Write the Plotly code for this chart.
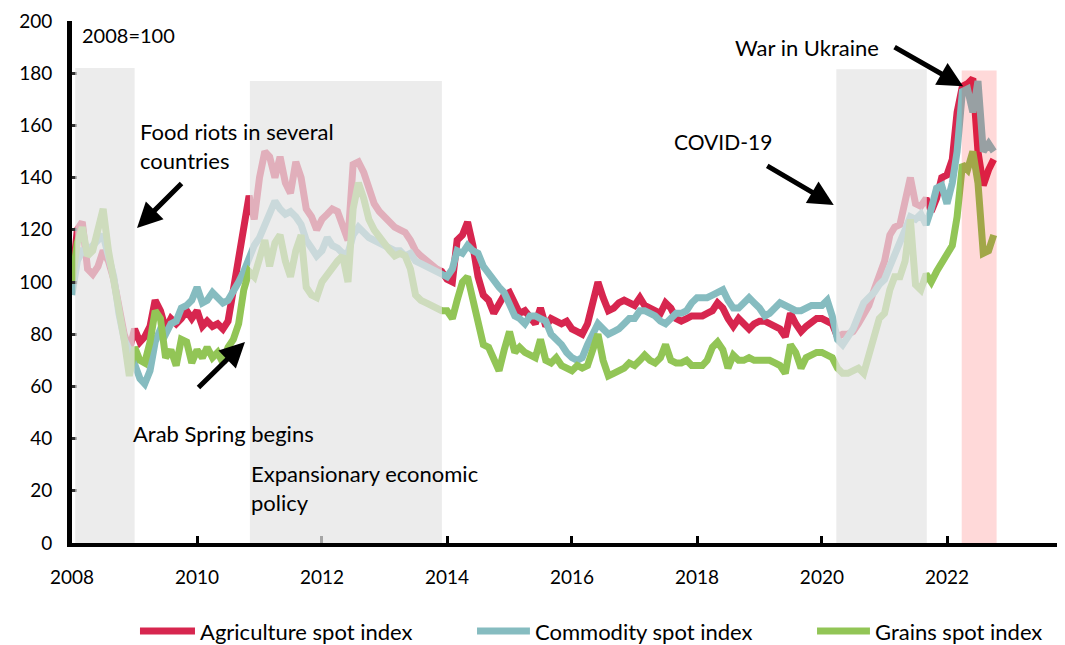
import pandas as pd
import plotly.graph_objects as go

dates = pd.date_range("2008-01-01", "2022-10-01", freq="MS")

agriculture = [
    100, 120, 123, 105, 103, 106, 112, 108, 101, 90, 80, 74,
    82, 77, 79, 83, 93, 89, 82, 86, 84, 86, 89, 86,
    89, 83, 85, 83, 84, 82, 85, 97, 109, 122, 133, 124,
    140, 150, 148, 140, 148, 138, 134, 146, 140, 128, 125, 120,
    124, 126, 128, 127, 122, 116, 145, 146, 142, 136, 130, 127,
    125, 123, 121, 120, 119, 116, 112, 110, 108, 107, 105, 104,
    101, 100, 116, 118, 123, 114, 102, 95, 93, 88, 92, 95,
    96, 91, 88, 89, 86, 84, 90, 83, 86, 85, 84, 85,
    82, 81, 80, 84, 91, 100, 94, 89, 90, 92, 93, 92,
    91, 94, 91, 90, 89, 88, 92, 90, 86, 85, 86, 87,
    87, 87, 88, 89, 92, 90, 86, 83, 86, 84, 82, 84,
    85, 85, 84, 83, 82, 79, 88, 84, 81, 83, 85, 86,
    86, 85, 84, 79, 80, 80, 81, 84, 88, 91, 97, 103,
    108, 118, 121, 122, 130, 140, 130, 129, 132, 127, 132, 140,
    141, 147, 165, 175, 176, 178, 150, 137, 143, 147,
]

commodity = [
    95, 108, 112, 112, 114, 116, 118, 110, 102, 88, 78, 74,
    69, 63, 61, 66, 77, 82, 80, 84, 85, 90, 91, 93,
    98, 92, 93, 96, 94, 92, 93, 96, 100, 104, 110, 114,
    117, 122, 127, 131, 128, 126, 127, 125, 122, 116, 113, 110,
    112, 117, 114, 113, 111, 111, 118, 121, 119, 117, 116, 115,
    114, 113, 112, 112, 110, 111, 108, 107, 106, 105, 104, 103,
    102, 105, 112, 111, 114, 112, 111, 106, 103, 100, 98, 96,
    92, 87, 86, 84, 87, 87, 86, 85, 80, 78, 76, 73,
    71, 70, 71, 76, 80, 84, 82, 80, 81, 82, 84, 86,
    86, 89, 89, 88, 87, 85, 84, 86, 88, 88, 89, 92,
    94, 94, 94, 95, 96, 97, 93, 90, 90, 92, 94, 92,
    90, 87, 88, 90, 92, 91, 90, 89, 89, 90, 91, 91,
    91, 93, 87, 78, 76, 79, 82, 87, 92, 94, 96, 99,
    101, 106, 111, 115, 120, 125, 124, 126, 122, 128, 136, 137,
    130, 138, 150, 173, 174, 165, 177, 150, 153, 150,
]

grains = [
    100, 115, 121, 110, 112, 120, 128, 112, 101, 90, 78, 64,
    75, 70, 69, 77, 89, 86, 71, 74, 68, 78, 77, 69,
    74, 71, 75, 71, 73, 69, 75, 78, 84, 97, 104, 102,
    108, 116, 106, 115, 118, 108, 102, 112, 118, 98, 95, 94,
    100, 103, 106, 108, 110, 100, 128, 138, 132, 124, 120, 117,
    115, 112, 110, 111, 110, 105, 95, 93, 92, 91, 90, 89,
    89, 86, 93, 100, 102, 94, 84, 76, 75, 70, 66, 74,
    81, 73, 75, 73, 72, 71, 78, 70, 69, 71, 68, 67,
    66, 68, 67, 68, 73, 80, 70, 64, 65, 66, 67, 69,
    68, 70, 72, 70, 69, 71, 76, 70, 69, 69, 70, 68,
    68, 68, 70, 75, 77, 74, 67, 72, 70, 70, 71, 70,
    70, 70, 70, 69, 68, 65, 76, 73, 67, 71, 72, 73,
    73, 72, 71, 67, 65, 65, 66, 67, 65, 72, 80, 86,
    88, 97, 102, 102, 108, 124, 99, 97, 103, 100, 104, 107,
    111, 114, 125, 145, 143, 150, 138, 111, 112, 118,
]

series_names = ["Agriculture spot index", "Commodity spot index", "Grains spot index"]
series_colors = ["#d7264f", "#86bcc0", "#92c556"]

grey_periods = [("2008-01-20", "2009-01-01", 182), ("2010-11-06", "2013-12-02", 177),
                ("2020-03-25", "2021-09-05", 181.5)]
war_period = ("2022-03-28", "2022-10-18", 181)

FONT = "Lato, 'Open Sans', sans-serif"

fig = go.Figure()
for name, vals, col in zip(series_names, [agriculture, commodity, grains], series_colors):
    fig.add_trace(go.Scatter(x=dates, y=vals, name=name, mode="lines", showlegend=False,
                             line=dict(color=col, width=7, shape="linear")))

for x0, x1, top in grey_periods:
    fig.add_shape(type="rect", xref="x", yref="y", x0=x0, x1=x1, y0=-0.8, y1=top,
                  fillcolor="rgba(228,228,228,0.72)", line=dict(width=0), layer="above")
fig.add_shape(type="rect", xref="x", yref="y", x0=war_period[0], x1=war_period[1], y0=-0.8,
              y1=war_period[2], fillcolor="rgba(255,0,0,0.15)", line=dict(width=0), layer="above")

texts = [
    ("2008=100", "2008-02-15", 194.5, 20),
    ("Food riots in several<br>countries", "2009-01-20", 152, 22),
    ("Arab Spring begins", "2008-12-10", 42, 22),
    ("Expansionary economic<br>policy", "2010-11-01", 21, 22),
    ("COVID-19", "2017-08-05", 154, 21),
    ("War in Ukraine", "2018-07-30", 190, 22),
]
for t, x, y, fs in texts:
    fig.add_annotation(text=t, x=x, y=y, xref="x", yref="y", showarrow=False,
                       xanchor="left", yanchor="middle", align="left",
                       font=dict(family=FONT, size=fs, color="#000"))

arrows = [
    ("2009-01-15", 120.7, 46, -46),
    ("2010-10-08", 77, -48, 47),
    ("2020-03-10", 129.5, -68, -40),
    ("2022-04-05", 175, -70, -40),
]
for x, y, ax, ay in arrows:
    fig.add_annotation(text="", x=x, y=y, xref="x", yref="y", ax=ax, ay=ay,
                       axref="pixel", ayref="pixel", showarrow=True,
                       arrowhead=2, arrowsize=1, arrowwidth=5, arrowcolor="#000", standoff=0)

# legend drawn below the axis (sample line + label for each series)
legend_x = [(0.0686, 0.1241, 0.1272), (0.4087, 0.4621, 0.4652), (0.7518, 0.8052, 0.8083)]
legend_y = -0.1686
for name, col, (lx0, lx1, tx) in zip(series_names, series_colors, legend_x):
    fig.add_shape(type="line", xref="paper", yref="paper", x0=lx0, x1=lx1,
                  y0=legend_y, y1=legend_y, line=dict(color=col, width=7))
    fig.add_annotation(text=name, x=tx, y=legend_y, xref="paper", yref="paper",
                       showarrow=False, xanchor="left", yanchor="middle",
                       font=dict(family=FONT, size=22, color="#000"))

# the page adds an 8px body margin, so the figure is sized to fill the rest of the window
fig.update_layout(
    width=1057, height=637,
    margin=dict(l=64, r=2, t=13, b=102, autoexpand=False),
    paper_bgcolor="white", plot_bgcolor="white",
    font=dict(family=FONT, size=19, color="#000"),
    showlegend=False,
)
fig.update_xaxes(type="date", range=["2008-01-01", "2023-11-10"], automargin=False,
                 tick0="2008-01-01", dtick="M24", tickformat="%Y",
                 showline=True, linecolor="#000", linewidth=4,
                 ticks="inside", ticklen=7, tickwidth=3, tickcolor="#000",
                 showgrid=False, zeroline=False, ticklabelstandoff=14,
                 tickfont=dict(family=FONT, size=19, color="#000"))
fig.update_yaxes(range=[0, 200], dtick=20, tick0=0, automargin=False,
                 showline=True, linecolor="#000", linewidth=5,
                 ticks="inside", ticklen=5, tickwidth=3, tickcolor="#333",
                 showgrid=False, zeroline=False, ticklabelstandoff=11,
                 tickfont=dict(family=FONT, size=19, color="#000"))

fig.write_html("out.html")
